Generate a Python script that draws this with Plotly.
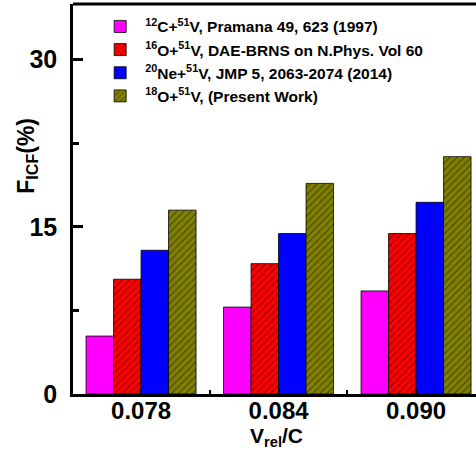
import plotly.graph_objects as go

categories = ["0.078", "0.084", "0.090"]
x_pos = [0, 1, 2]
c12 = [5.2, 7.8, 9.25]
o16 = [10.3, 11.7, 14.4]
ne20 = [12.9, 14.4, 17.2]
o18 = [16.5, 18.9, 21.3]

names = [
    "<b><sup>12</sup>C+<sup>51</sup>V, Pramana 49, 623 (1997)</b>",
    "<b><sup>16</sup>O+<sup>51</sup>V, DAE-BRNS on N.Phys. Vol 60</b>",
    "<b><sup>20</sup>Ne+<sup>51</sup>V, JMP 5, 2063-2074 (2014)</b>",
    "<b><sup>18</sup>O+<sup>51</sup>V, (Present Work)</b>",
]
colors = ["#FF00FF", "#FF0000", "#0000FF", "#808000"]
patterns = ["", "/", "", "/"]
series = [c12, o16, ne20, o18]

FONT = "Arial, Liberation Sans, sans-serif"

fig = go.Figure()
for name, col, pat, vals in zip(names, colors, patterns, series):
    fp = dict(shape=pat, fgcolor="black", bgcolor=col, size=5, solidity=0.2) if pat else None
    fig.add_trace(go.Bar(
        x=x_pos, y=vals, name=name,
        marker=dict(color=col, line=dict(color="black", width=0.8), pattern=fp),
    ))

fig.update_layout(
    width=476, height=450,
    margin=dict(l=73, r=0, t=4, b=56),
    plot_bgcolor="white", paper_bgcolor="white",
    barmode="group", bargap=0.2, bargroupgap=0,
    font=dict(family=FONT, color="black"),
    showlegend=True,
    legend=dict(x=0.055, y=0.985, xanchor="left", yanchor="top",
                bgcolor="rgba(0,0,0,0)", font=dict(size=15.5, family=FONT, weight="bold"),
                itemwidth=40),
    shapes=[dict(type="line", xref="paper", yref="paper", x0=0, x1=1, y0=1, y1=1,
                 line=dict(color="black", width=3))],
    annotations=[
        dict(text="<b>V<sub>rel</sub>/C</b>", xref="paper", yref="paper",
             x=0.505, y=-0.111, xanchor="center", yanchor="middle", showarrow=False,
             font=dict(size=21, family=FONT, weight="bold")),
        dict(text="<b>F<sub>ICF</sub>(%)</b>", xref="paper", yref="paper",
             x=-0.115, y=0.61, xanchor="center", yanchor="middle", showarrow=False,
             textangle=-90, font=dict(size=23, family=FONT, weight="bold")),
    ],
)
fig.update_xaxes(
    range=[-0.495, 2.436], tickmode="array", tickvals=x_pos, ticktext=categories,
    ticks="inside", ticklen=5, tickwidth=2, tickcolor="black",
    minor=dict(tickvals=[0.5, 1.5], ticks="inside", ticklen=4, tickwidth=2, tickcolor="black"),
    showline=True, linewidth=2.5, linecolor="black", showgrid=False, zeroline=False,
    tickfont=dict(size=24, family=FONT, weight="bold"),
    ticklabelstandoff=-7,
)
fig.update_yaxes(
    range=[0, 35], tickmode="array", tickvals=[0, 15, 30],
    ticks="inside", ticklen=10, tickwidth=2.5, tickcolor="black",
    minor=dict(tickvals=[7.5, 22.5], ticks="inside", ticklen=6, tickwidth=2.5, tickcolor="black"),
    showline=True, linewidth=2.5, linecolor="black", showgrid=False, zeroline=False,
    tickfont=dict(size=25, family=FONT, weight="bold"),
    ticklabelstandoff=8,
)
fig.write_html("out.html")
